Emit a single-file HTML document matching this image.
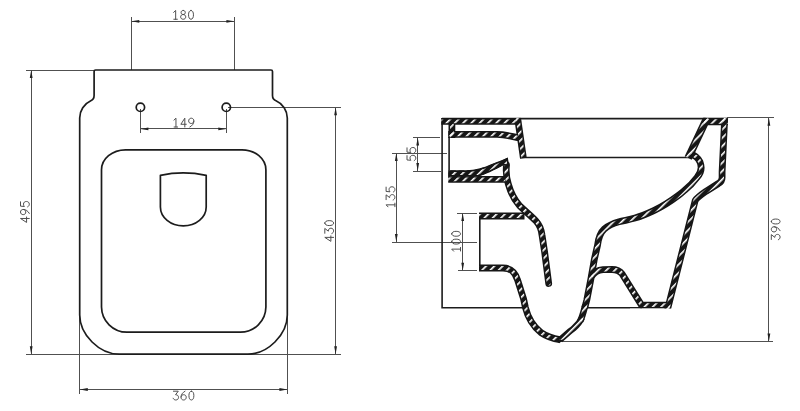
<!DOCTYPE html>
<html><head><meta charset="utf-8">
<style>
html,body{margin:0;padding:0;background:#fff;}
body{width:800px;height:411px;overflow:hidden;}
svg{display:block;}
text{font-family:"Liberation Sans",sans-serif;font-size:13px;fill:#4c4c4c;fill-opacity:0;text-anchor:middle;}
.o{fill:none;stroke:#1c1c1c;stroke-width:1.7;stroke-linejoin:round;stroke-linecap:round;}
.m{fill:none;stroke:#1c1c1c;stroke-width:1.6;}
.d{fill:none;stroke:#505050;stroke-width:1;shape-rendering:crispEdges;}
.a{fill:#222;stroke:none;}
.t{fill:none;stroke:#4c4c4c;stroke-width:1.12;stroke-linecap:round;stroke-linejoin:round;}
.b{stroke:#161616;--bw:6.8px;}
.h{stroke:url(#hp);--bw:3.8px;}
#walls path{fill:none;stroke-linejoin:round;stroke-width:calc(var(--bw) + var(--x,0px));}
</style></head><body>
<svg width="800" height="411" viewBox="0 0 800 411">
<defs>
<pattern id="hp" width="5.87" height="12" patternUnits="userSpaceOnUse" patternTransform="rotate(45) translate(2.7 0)">
<rect x="0" y="0" width="1.65" height="12" fill="#fff"/>
</pattern>
<g id="walls">
<path id="w1" d="M441.3,121.3H520"/>
<path id="w2" d="M451.9,124V138"/>
<path id="w3" d="M448.2,134.4H497C505,134.4 511,136.3 519,137.8"/>
<path id="w4" d="M517.6,118L523.4,158.3"/>
<path id="w5" d="M448.2,179.4H505"/>
<path id="w7" stroke-linecap="round" d="M506.5,165C505.8,171 506.2,177 508.3,184C510.8,193 515,200.5 519.6,205.8C524,210 531.3,216 536,221C539.6,225 541.3,229 542,235L544.7,252.6L548.7,283.5"/>
<path id="w8" d="M479,216H524.5"/>
<path id="w9" d="M479,268H503C511,268 515,272 517.6,280L523.6,299L525.4,307.5C528,318 534,327 541,332.6C546.5,336.3 553,338.6 559.8,339.6"/>
<path id="w10" style="--x:0.9px" d="M707,118L688.2,158"/>
<path id="w11" d="M690.5,154C694,155 698,157.5 700,162C702,167 701,173 697,177.5C694,181.5 690,186 685.1,189.9C683,191.6 681,193.5 678.6,195.3C671,201 663,206.3 654.3,210.4C648,213.4 641,216.3 635,218.1C629,219.8 624,220.5 619,221.8C613,223.5 608,225.8 604.5,228.8C600.5,232.5 598.5,238 597.6,244.9L594.3,259.5L590.9,278.9L586.8,300L584.7,308"/>
<path id="w11m" style="--x:-0.3px" d="M585.3,305L584.1,309.7C583,313.5 582.2,316.5 581,319.5L580.2,321"/>
<path id="w11b" style="--x:-0.6px" d="M581.9,317.8C579.8,322.6 576.4,326 573.6,328.4C571.8,329.9 570.8,330.6 570,331.2L560,339.8"/>
<path id="w12" d="M591.5,276.5C594,272.5 598,270 603,269.6L612,269.5C616.5,269.5 619.5,270.5 622,273.8L641.5,305.1H670"/>
<path id="w13" style="--x:0.8px" d="M704,121.5H727.8"/>
<path id="w14" d="M724.7,118L722.1,172V177.5C722.1,180.5 720.8,182.3 718.4,183.5L706,191.3C700,195.5 696.8,198 695.2,200.5L667.5,309.5"/>
</g>
<path id="g0" d="M3.2,0C1.4,0 0.4,2 0.4,5C0.4,8 1.4,10 3.2,10C5,10 6,8 6,5C6,2 5,0 3.2,0Z"/>
<path id="g1" d="M1.2,2.2L3.5,0V10M1.4,10H5.4"/>
<path id="g3" d="M0.5,0H6L2.9,4C5.2,4 6.3,5.3 6.3,7C6.3,8.8 5,10 3.2,10C1.7,10 0.7,9.2 0.2,8"/>
<path id="g4" d="M4.7,10V0L0.2,6.9H6.4"/>
<path id="g5" d="M5.9,0H1L0.6,4.4C1.4,3.7 2.3,3.4 3.3,3.4C5.2,3.4 6.3,4.8 6.3,6.7C6.3,8.6 5.1,10 3.2,10C1.8,10 0.8,9.3 0.2,8.2"/>
<path id="g6" d="M4.8,0C2,1.5 0.3,4 0.3,6.8C0.3,8.7 1.4,10 3.2,10C5,10 6.2,8.7 6.2,6.9C6.2,5.1 5,4 3.2,4C1.6,4 0.5,5 0.3,6.6"/>
<path id="g8" d="M3.2,0C1.7,0 0.8,1 0.8,2.3C0.8,3.6 1.7,4.6 3.2,4.6C4.7,4.6 5.6,3.6 5.6,2.3C5.6,1 4.7,0 3.2,0ZM3.2,4.6C1.4,4.6 0.3,5.7 0.3,7.3C0.3,8.9 1.4,10 3.2,10C5,10 6.1,8.9 6.1,7.3C6.1,5.7 5,4.6 3.2,4.6Z"/>
<path id="g9" d="M1.6,10C4.4,8.5 6.1,6 6.1,3.2C6.1,1.3 5,0 3.2,0C1.4,0 0.2,1.3 0.2,3.1C0.2,4.9 1.4,6 3.2,6C4.8,6 5.9,5 6.1,3.4"/>
<pattern id="hb" width="5.87" height="12" patternUnits="userSpaceOnUse" patternTransform="rotate(45) translate(2.7 0)">
<rect x="0" y="0" width="5.87" height="12" fill="#161616"/><rect x="0" y="0" width="1.65" height="12" fill="#fff"/>
</pattern>
<clipPath id="cw"><rect x="430" y="117.8" width="320" height="230"/></clipPath>
<clipPath id="c6"><path d="M448.2,170.3H466C476,170 484,167.5 490,164.8C496,162.5 502,160.3 507.8,157.5L509.2,166L503,165.4C494,170.2 485,174.6 478,176.5H448.2Z"/></clipPath>
</defs>
<rect width="800" height="411" fill="#fff"/>

<!-- ================= LEFT VIEW ================= -->
<g id="left">
<!-- dims -->
<path class="d" d="M131.3,17V70 M234.4,17V70 M131.3,21.3H234.4"/>
<path class="a" d="M131.3,21.3l8,-1.4v2.8z M234.4,21.3l-8,-1.4v2.8z"/>
<g class="t" transform="translate(172.58,10.45) scale(0.8800000000000001)"><use href="#g1" x="0.00"/><use href="#g8" x="8.86"/><use href="#g0" x="17.73"/></g>

<path class="d" d="M140.4,109V133 M226.3,109V133 M140.4,128.9H226.3"/>
<path class="a" d="M140.4,128.9l8,-1.4v2.8z M226.3,128.9l-8,-1.4v2.8z"/>
<g class="t" transform="translate(172.88,118.20) scale(0.8800000000000001)"><use href="#g1" x="0.00"/><use href="#g4" x="8.86"/><use href="#g9" x="17.73"/></g>

<path class="d" d="M26,70H95 M26,354.2H120 M31.2,70V354.2"/>
<path class="a" d="M31.2,70l-1.4,8h2.8z M31.2,354.2l-1.4,-8h2.8z"/>
<g class="t" transform="translate(172.98,391.20) scale(0.8800000000000001)"><use href="#g3" x="0.00"/><use href="#g6" x="8.86"/><use href="#g0" x="17.73"/></g>

<path class="d" d="M228,107.3H341 M246,354.2H341 M335.6,107.3V354.2"/>
<path class="a" d="M335.6,107.3l-1.4,8h2.8z M335.6,354.2l-1.4,-8h2.8z"/>
<g class="t" transform="translate(20.50,222.62) rotate(-90) scale(0.8800000000000001)"><use href="#g4" x="0.00"/><use href="#g9" x="8.86"/><use href="#g5" x="17.73"/></g>

<path class="d" d="M79.8,312V394 M287.4,312V394 M79.8,389.5H287.4"/>
<path class="a" d="M79.8,389.5l8,-1.4v2.8z M287.4,389.5l-8,-1.4v2.8z"/>
<g class="t" transform="translate(324.80,241.52) rotate(-90) scale(0.8800000000000001)"><use href="#g4" x="0.00"/><use href="#g3" x="8.86"/><use href="#g0" x="17.73"/></g>

<!-- outline -->
<path class="o" d="M94.1,71.5Q94.1,70 95.6,70H271Q272.5,70 272.5,71.5V95.5Q272.5,99.3 276,100.8A19,19 0 0 1 287.3,118V315C287.3,334.7 267.5,354.2 247.8,354.2H119.2C99.5,354.2 79.7,334.7 79.7,315V118A19,19 0 0 1 90.8,100.8Q94.1,99.3 94.1,95.5Z"/>
<path class="o" d="M125.5,149.8H242A24,20 0 0 1 265.9,169.8V307A25.5,25.5 0 0 1 240.4,332.2H127A25.5,25.5 0 0 1 101.5,307V169.8A24,20 0 0 1 125.5,149.8Z"/>
<path class="o" d="M160.4,175.3Q183.3,170.5 206.2,175.3V207A22.9,18.9 0 0 1 160.4,207Z"/>
<circle class="o" cx="140.4" cy="107.3" r="4.2"/>
<circle class="o" cx="226.3" cy="107.3" r="4.2"/>
</g>

<!-- ================= RIGHT VIEW ================= -->
<g id="right">
<!-- dims -->
<path class="d" d="M413.3,137.5H440 M413.3,171H440.5 M417.7,137.5V171"/>
<path class="a" d="M417.7,137.5l-1.4,8h2.8z M417.7,171l-1.4,-8h2.8z"/>
<g class="t" transform="translate(407.00,160.82) rotate(-90) scale(0.8800000000000001)"><use href="#g5" x="0.00"/><use href="#g5" x="8.86"/></g>

<path class="d" d="M392.3,153.1H446.6 M392.3,242.1H477.3 M396.3,153.1V242.1"/>
<path class="a" d="M396.3,153.1l-1.4,8h2.8z M396.3,242.1l-1.4,-8h2.8z"/>
<g class="t" transform="translate(386.10,207.92) rotate(-90) scale(0.8800000000000001)"><use href="#g1" x="0.00"/><use href="#g3" x="8.86"/><use href="#g5" x="17.73"/></g>

<path class="d" d="M457,213H477.3 M458,270.7H477.3 M462.7,213V270.7"/>
<path class="a" d="M462.7,213l-1.4,8h2.8z M462.7,270.7l-1.4,-8h2.8z"/>
<g class="t" transform="translate(451.70,252.22) rotate(-90) scale(0.8800000000000001)"><use href="#g1" x="0.00"/><use href="#g0" x="8.86"/><use href="#g0" x="17.73"/></g>

<path class="d" d="M727,117.8H773.6 M560,341.6H773.2 M768.9,117.8V341.6"/>
<path class="a" d="M768.9,117.8l-1.4,8h2.8z M768.9,341.6l-1.4,-8h2.8z"/>
<g class="t" transform="translate(771.30,239.92) rotate(-90) scale(0.8800000000000001)"><use href="#g3" x="0.00"/><use href="#g9" x="8.86"/><use href="#g0" x="17.73"/></g>

<!-- visible edges -->
<path class="m" d="M442.1,118V307.8H523 M586,307.8H642 M442,118.6H727 M520,157.5H692 M449.1,137V171 M479.8,219V265"/>

<!-- hatched walls: black band then white slits -->
<g clip-path="url(#cw)"><use href="#walls" class="b"/>
<use href="#walls" class="h"/></g>
<rect x="630" y="308.6" width="75" height="12" fill="#fff"/>
<path d="M556,340.5L559.4,343.2L563.5,339.5Z" fill="#161616"/>
<path d="M448.2,170.3H466C476,170 484,167.5 490,164.8C496,162.5 502,160.3 507.8,157.5L509.2,166L503,165.4C494,170.2 485,174.6 478,176.5H448.2Z" fill="url(#hb)" stroke="#161616" stroke-width="3.2" clip-path="url(#c6)"/>
</g>
<!-- real text labels (transparent; visible glyphs are drawn as CAD-style stroke paths above) -->
<g id="labels">
<text x="183.2" y="19.5">180</text>
<text x="183.5" y="127.3">149</text>
<text x="183.6" y="400.3">360</text>
<text transform="translate(29.5,212) rotate(-90)">495</text>
<text transform="translate(333.8,230.9) rotate(-90)">430</text>
<text transform="translate(416,154.1) rotate(-90)">55</text>
<text transform="translate(395.1,197.3) rotate(-90)">135</text>
<text transform="translate(460.7,241.6) rotate(-90)">100</text>
<text transform="translate(780.3,229.3) rotate(-90)">390</text>
</g>
</svg>
</body></html>
